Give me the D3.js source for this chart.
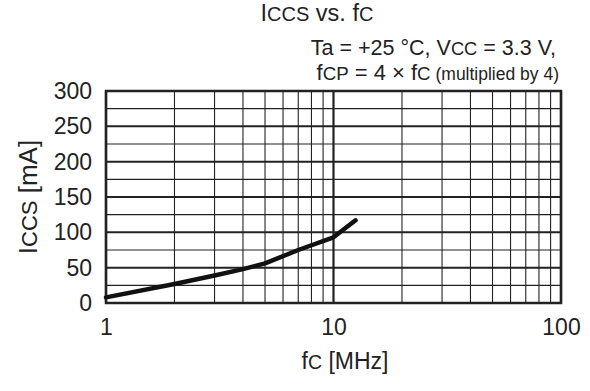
<!DOCTYPE html>
<html>
<head>
<meta charset="utf-8">
<script src="https://cdn.jsdelivr.net/npm/d3@7"></script>
<style>
  body { margin: 0; background: #fff; }
  svg { font-family: "Liberation Sans", Arial, sans-serif; fill: #222; }
</style>
</head>
<body>
<div id="viz"></div>
<script>
// data
const freqMHz = [1, 2, 3, 4, 5, 7, 10, 12.5]
const iccsMA = [8, 27, 39, 48, 56, 75, 93, 117]
const xTicks = [1, 10, 100]
const yTicks = [0, 50, 100, 150, 200, 250, 300]
const yMinor = [25, 75, 125, 175, 225, 275]

const width = 590, height = 391
const margin = { top: 91, right: 29, bottom: 88, left: 106 }

const svg = d3.select("#viz").append("svg")
  .attr("width", width)
  .attr("height", height)

const x = d3.scaleLog().domain([1, 100]).range([margin.left, width - margin.right])
const y = d3.scaleLinear().domain([0, 300]).range([height - margin.bottom, margin.top])

// minor vertical grid (2..9 of each decade)
const xMinor = []
;[1, 10].forEach(dec => { for (let k = 2; k <= 9; k++) xMinor.push(dec * k) })

const grid = svg.append("g").attr("stroke", "#222")
grid.selectAll(".vminor").data(xMinor).join("line")
  .attr("x1", d => x(d)).attr("x2", d => x(d))
  .attr("y1", y(0)).attr("y2", y(300))
  .attr("stroke-width", 1.1)
grid.selectAll(".hminor").data(yMinor).join("line")
  .attr("x1", x(1)).attr("x2", x(100))
  .attr("y1", d => y(d)).attr("y2", d => y(d))
  .attr("stroke-width", 1.1)
grid.selectAll(".hmajor").data(yTicks).join("line")
  .attr("x1", x(1)).attr("x2", x(100))
  .attr("y1", d => y(d)).attr("y2", d => y(d))
  .attr("stroke-width", 2)
grid.selectAll(".vmajor").data(xTicks).join("line")
  .attr("x1", d => x(d)).attr("x2", d => x(d))
  .attr("y1", y(0)).attr("y2", y(300))
  .attr("stroke-width", 2.2)

// frame
svg.append("rect")
  .attr("x", x(1)).attr("y", y(300))
  .attr("width", x(100) - x(1)).attr("height", y(0) - y(300))
  .attr("fill", "none").attr("stroke", "#222").attr("stroke-width", 2.5)

// curve
const line = d3.line().x((d, i) => x(freqMHz[i])).y(d => y(d))
svg.append("path")
  .datum(iccsMA)
  .attr("d", line)
  .attr("fill", "none")
  .attr("stroke", "#111")
  .attr("stroke-width", 4.5)
  .attr("stroke-linecap", "round")
  .attr("stroke-linejoin", "round")

// axes labels
const xAxis = d3.axisBottom(x).tickValues(xTicks).tickFormat(d3.format("d")).tickSize(0).tickPadding(0)
svg.append("g")
  .attr("transform", `translate(0,${y(0) + 16})`)
  .call(xAxis)
  .call(g => g.select(".domain").remove())
  .selectAll("text")
  .attr("font-size", 23).attr("font-family", null).attr("fill", "#222")

const yAxis = d3.axisLeft(y).tickValues(yTicks).tickSize(0).tickPadding(0)
svg.append("g")
  .attr("transform", `translate(${x(1) - 14},0)`)
  .call(yAxis)
  .call(g => g.select(".domain").remove())
  .selectAll("text")
  .attr("font-size", 23).attr("font-family", null).attr("fill", "#222")

// titles with small-caps subscripts
function rich(sel, parts) {
  parts.forEach(p => sel.append("tspan").attr("font-size", p[1]).text(p[0]))
  return sel
}

rich(svg.append("text").attr("x", 317).attr("y", 21).attr("text-anchor", "middle"),
  [["I", 23.5], ["CCS", 20], [" vs. f", 23.5], ["C", 20]])

rich(svg.append("text").attr("x", 556).attr("y", 55).attr("text-anchor", "end"),
  [["Ta = +25 °C, V", 21.5], ["CC", 18.3], [" = 3.3 V,", 21.5]])

rich(svg.append("text").attr("x", 559).attr("y", 80).attr("text-anchor", "end"),
  [["f", 22], ["CP", 18.7], [" = 4 × f", 22], ["C", 18.7], [" (multiplied by 4)", 17.5]])

rich(svg.append("text").attr("x", 345).attr("y", 369).attr("text-anchor", "middle"),
  [["f", 23], ["C", 19.5], [" [MHz]", 23]])

rich(svg.append("text")
    .attr("transform", `translate(37,${(y(0) + y(300)) / 2}) rotate(-90)`)
    .attr("text-anchor", "middle"),
  [["I", 26], ["CCS", 22], [" [mA]", 26]])
</script>
</body>
</html>
